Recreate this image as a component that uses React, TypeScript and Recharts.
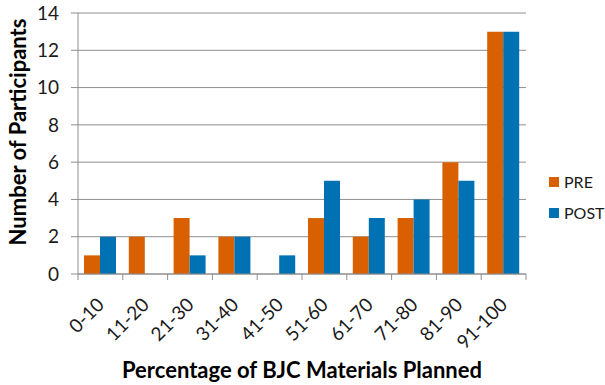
import React from "react";
import { BarChart, Bar, XAxis, YAxis, CartesianGrid, Legend, Label } from "recharts";

const categories = ["0-10", "11-20", "21-30", "31-40", "41-50", "51-60", "61-70", "71-80", "81-90", "91-100"];
const preValues = [1, 2, 3, 2, 0, 3, 2, 3, 6, 13];
const postValues = [2, 0, 1, 2, 1, 5, 3, 4, 5, 13];
const yTicks = [0, 2, 4, 6, 8, 10, 12, 14];

const data = categories.map((c, i) => ({ name: c, PRE: preValues[i], POST: postValues[i] }));

const FONT = "Lato, 'Open Sans', sans-serif";
const PRE_COLOR = "#D86000";
const POST_COLOR = "#0071B2";
const GRID = "#8E8E8E";

const XTick = (props: any) => {
  const { x, y, payload, index } = props;
  const half = payload && payload.offset ? payload.offset : 22.4;
  const last = index === categories.length - 1;
  return (
    <g>
      <line x1={x - half} y1={y} x2={x - half} y2={y + 6} stroke={GRID} />
      {last && <line x1={x + half} y1={y} x2={x + half} y2={y + 6} stroke={GRID} />}
      <text
        transform={`translate(${x + 5},${y + 32}) rotate(-45)`}
        textAnchor="end"
        fontFamily={FONT}
        fontSize={19}
        fill="#1a1a1a"
      >
        {payload.value}
      </text>
    </g>
  );
};

const LegendContent = () => (
  <div style={{ fontFamily: FONT, fontSize: 16, color: "#1a1a1a", whiteSpace: "nowrap" }}>
    {[
      ["PRE", PRE_COLOR],
      ["POST", POST_COLOR],
    ].map(([n, c]) => (
      <div key={n} style={{ display: "flex", alignItems: "center", height: 31 }}>
        <span
          style={{ display: "inline-block", flexShrink: 0, width: 10, height: 10, background: c, marginRight: 5 }}
        />
        <span>{n}</span>
      </div>
    ))}
  </div>
);

const YTitle = (props: any) => (
  <text
    transform={`translate(17,132) rotate(-90)`}
    textAnchor="middle"
    dominantBaseline="central"
    fontFamily={FONT}
    fontWeight="bold"
    fontSize={22}
    fill="#000"
  >
    Number of Participants
  </text>
);

export default function App() {
  return (
    <div style={{ position: "absolute", left: 0, top: 0, width: 605, height: 385, background: "#fff" }}>
      <BarChart
        width={605}
        height={385}
        data={data}
        margin={{ top: 13, right: 79, bottom: 0, left: 0 }}
        barSize={16}
        barGap={0}
      >
        <CartesianGrid horizontal vertical={false} stroke={GRID} strokeDasharray="" />
        <XAxis
          dataKey="name"
          height={111}
          tickSize={0}
          tickMargin={0}
          tickLine={false}
          axisLine={{ stroke: GRID }}
          interval={0}
          tick={<XTick />}
        >
          <Label
            value="Percentage of BJC Materials  Planned"
            position="insideBottom"
            offset={7}
            style={{ fontFamily: FONT, fontWeight: "bold", fontSize: 22, fill: "#000", whiteSpace: "pre" }}
          />
        </XAxis>
        <YAxis
          width={78}
          domain={[0, 14]}
          ticks={yTicks}
          interval={0}
          tickSize={7}
          tickMargin={12}
          tickLine={{ stroke: GRID }}
          axisLine={{ stroke: GRID }}
          tick={{ fontFamily: FONT, fontSize: 19, fill: "#1a1a1a" }}
        >
          <Label content={<YTitle />} />
        </YAxis>
        <Legend
          layout="vertical"
          align="center"
          verticalAlign="middle"
          content={<LegendContent />}
          wrapperStyle={{ left: 549, top: 166, width: 56 }}
        />
        <Bar dataKey="PRE" fill={PRE_COLOR} isAnimationActive={false} />
        <Bar dataKey="POST" fill={POST_COLOR} isAnimationActive={false} />
      </BarChart>
    </div>
  );
}
